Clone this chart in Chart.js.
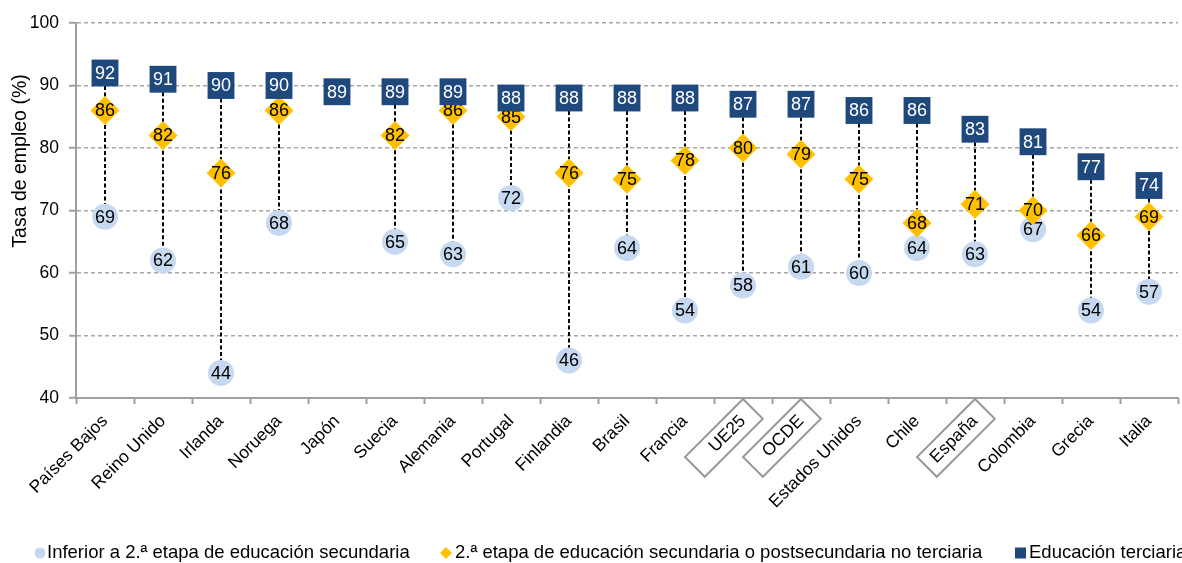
<!DOCTYPE html>
<html><head><meta charset="utf-8">
<script src="https://cdn.jsdelivr.net/npm/chart.js@4.4.0/dist/chart.umd.min.js"></script>
<style>html,body{margin:0;padding:0;background:#fff;overflow:hidden}#wrap{width:1182px;height:563px;position:relative}</style>
</head><body><div id="wrap"><canvas id="c" width="1182" height="563"></canvas></div>
<script>
const categories = ["Países Bajos","Reino Unido","Irlanda","Noruega","Japón","Suecia","Alemania","Portugal","Finlandia","Brasil","Francia","UE25","OCDE","Estados Unidos","Chile","España","Colombia","Grecia","Italia"];
const belowUpperSecondary = [69,62,44,68,null,65,63,72,46,64,54,58,61,60,64,63,67,54,57];
const upperSecondary = [86,82,76,86,null,82,86,85,76,75,78,80,79,75,68,71,70,66,69];
const tertiary = [92,91,90,90,89,89,89,88,88,88,88,87,87,86,86,83,81,77,74];
const yTickValues = [40,50,60,70,80,90,100];
const boxedCategories = ["UE25","OCDE","España"];
const seriesNames = ["Inferior a 2.ª etapa de educación secundaria","2.ª etapa de educación secundaria o postsecundaria no terciaria","Educación terciaria"];
const yTitle = "Tasa de empleo (%)";

const FONT = "'Liberation Sans', Arial, sans-serif";
const COL_LOW = '#C6D9F1', COL_MID = '#FFC000', COL_HIGH = '#1F497D';

const rangeLines = {
  id: 'rangeLines',
  beforeDatasetsDraw(chart) {
    const {ctx, scales: {x, y}} = chart;
    ctx.save();
    ctx.strokeStyle = '#000'; ctx.lineWidth = 2; ctx.setLineDash([4, 2.5]);
    categories.forEach((c, i) => {
      const vals = [belowUpperSecondary[i], upperSecondary[i], tertiary[i]].filter(v => v != null);
      if (vals.length < 2) return;
      const px = x.getPixelForValue(i);
      ctx.beginPath();
      ctx.moveTo(px, y.getPixelForValue(Math.max(...vals)));
      ctx.lineTo(px, y.getPixelForValue(Math.min(...vals)));
      ctx.stroke();
    });
    ctx.restore();
  }
};

const valueLabels = {
  id: 'valueLabels',
  afterDatasetDraw(chart, args) {
    const {ctx} = chart;
    const ds = chart.data.datasets[args.index];
    ctx.save();
    ctx.font = '18px ' + FONT;
    ctx.textAlign = 'center'; ctx.textBaseline = 'middle';
    ctx.fillStyle = ds.labelColor;
    args.meta.data.forEach((el, i) => {
      const v = ds.data[i];
      if (v == null) return;
      ctx.fillText(String(v), el.x, el.y + 1);
    });
    ctx.restore();
  }
};

const extras = {
  id: 'extras',
  afterDraw(chart) {
    const {ctx, chartArea} = chart;
    const xs = chart.scales.x;
    boxedCategories.forEach(name => {
      const i = categories.indexOf(name);
      if (i < 0) return;
      ctx.save();
      ctx.translate(xs.getPixelForValue(i), chartArea.bottom + 1);
      ctx.rotate(-Math.PI / 4);
      ctx.strokeStyle = '#999'; ctx.lineWidth = 2;
      ctx.strokeRect(-82, 0, 82, 28);
      ctx.restore();
    });
    ctx.save();
    ctx.translate(21, 161);
    ctx.rotate(-Math.PI / 2);
    ctx.font = '19.5px ' + FONT; ctx.fillStyle = '#000';
    ctx.textAlign = 'center'; ctx.textBaseline = 'middle';
    ctx.fillText(yTitle, 0, 0);
    ctx.restore();
    const ly = 553;
    ctx.save();
    ctx.font = '18.5px ' + FONT; ctx.fillStyle = '#000';
    ctx.textAlign = 'left'; ctx.textBaseline = 'middle';
    ctx.fillStyle = COL_LOW; ctx.beginPath(); ctx.arc(40, ly, 5.5, 0, Math.PI * 2); ctx.fill();
    ctx.fillStyle = '#000'; ctx.fillText(seriesNames[0], 47, ly);
    ctx.fillStyle = COL_MID; ctx.beginPath();
    ctx.moveTo(446, ly - 6); ctx.lineTo(452, ly); ctx.lineTo(446, ly + 6); ctx.lineTo(440, ly); ctx.closePath(); ctx.fill();
    ctx.fillStyle = '#000'; ctx.fillText(seriesNames[1], 455, ly);
    ctx.fillStyle = COL_HIGH; ctx.fillRect(1015, ly - 5.5, 11, 11);
    ctx.fillStyle = '#000'; ctx.fillText(seriesNames[2], 1029, ly);
    ctx.restore();
  }
};

new Chart(document.getElementById('c'), {
  type: 'line',
  data: {
    labels: categories,
    datasets: [
      {label: seriesNames[0], data: belowUpperSecondary, showLine: false, pointStyle: 'circle', pointRadius: 13, pointBackgroundColor: COL_LOW, pointBorderWidth: 0, borderColor: COL_LOW, backgroundColor: COL_LOW, labelColor: '#000', order: 3},
      {label: seriesNames[1], data: upperSecondary, showLine: false, pointStyle: 'rectRot', pointRadius: 14.5, pointBackgroundColor: COL_MID, pointBorderWidth: 0, borderColor: COL_MID, backgroundColor: COL_MID, labelColor: '#000', order: 2},
      {label: seriesNames[2], data: tertiary, showLine: false, pointStyle: 'rect', pointRadius: 19, pointBackgroundColor: COL_HIGH, pointBorderWidth: 0, borderColor: COL_HIGH, backgroundColor: COL_HIGH, labelColor: '#fff', order: 1}
    ]
  },
  options: {
    responsive: false,
    animation: false,
    events: [],
    layout: {autoPadding: false, padding: {left: 0, right: 4, top: 23, bottom: 0}},
    plugins: {legend: {display: false}, tooltip: {enabled: false}},
    scales: {
      x: {
        type: 'category', offset: true,
        grid: {offset: true, drawOnChartArea: false, drawTicks: true, tickLength: 6, tickColor: '#A0A0A0', tickWidth: 2, color: '#A0A0A0'},
        border: {color: '#A0A0A0', width: 2},
        ticks: {autoSkip: false, minRotation: 45, maxRotation: 45, padding: 7, color: '#000', font: {family: FONT, size: 17.5}},
        afterFit: s => { s.height = 165; s.paddingLeft = 0; s.paddingRight = 0; }
      },
      y: {
        min: 40, max: 100,
        afterBuildTicks: s => { s.ticks = yTickValues.map(v => ({value: v})); },
        grid: {color: '#A6A6A6', lineWidth: 1.5, tickLength: 7, tickColor: '#A0A0A0', tickWidth: 2, tickBorderDash: []},
        border: {color: '#A0A0A0', width: 2, dash: [4, 3]},
        ticks: {padding: 10, color: '#000', font: {family: FONT, size: 17.5}},
        afterFit: s => { s.width = 76; }
      }
    }
  },
  plugins: [rangeLines, valueLabels, extras]
});
</script>
</body></html>
